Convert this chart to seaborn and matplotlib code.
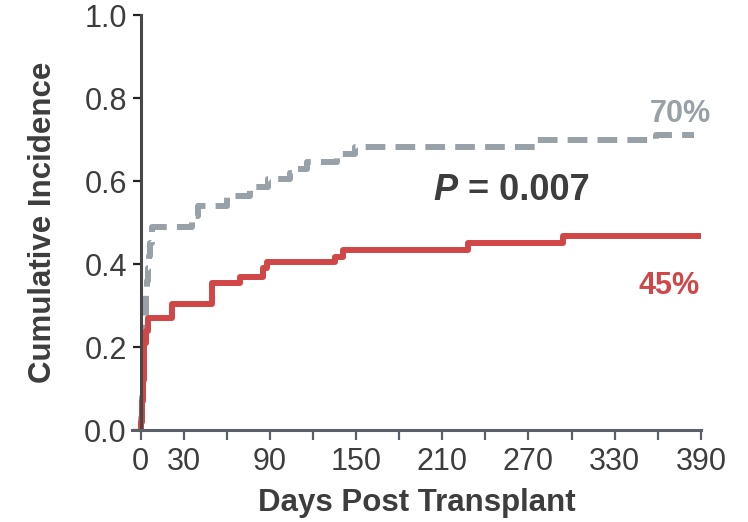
import pandas as pd
import seaborn as sns
import matplotlib.pyplot as plt
import numpy as np

# step points
days_high = [0, 0.5, 1, 1.5, 2, 2.5, 3, 3.5, 4, 4.5, 5, 5.5, 6.5, 8,
             36, 40, 60, 76, 89, 104, 107, 116, 137, 149, 275, 359, 385]
cif_high = [0, 0.03, 0.08, 0.13, 0.18, 0.22, 0.26, 0.30, 0.33, 0.36, 0.39, 0.42, 0.45, 0.49,
            0.515, 0.54, 0.565, 0.585, 0.605, 0.62, 0.63, 0.645, 0.665, 0.683, 0.698, 0.712, 0.712]

days_low = [0, 0.5, 1, 1.5, 2, 2.5, 3.5, 5, 22, 50, 69, 85, 88, 135, 141, 228, 294, 390]
cif_low = [0, 0.02, 0.07, 0.12, 0.17, 0.21, 0.24, 0.27, 0.305, 0.355, 0.37, 0.39, 0.405,
           0.418, 0.435, 0.45, 0.468, 0.468]

xticks = list(range(0, 391, 30))
xtick_labels = ['0', '30', '', '90', '', '150', '', '210', '', '270', '', '330', '', '390']
yticks = [0.0, 0.2, 0.4, 0.6, 0.8, 1.0]

gray = '#99a1a8'
red = '#d14747'
dark = '#3d3d3d'

df = pd.concat([
    pd.DataFrame({'day': days_high, 'cif': cif_high, 'group': 'high'}),
    pd.DataFrame({'day': days_low, 'cif': cif_low, 'group': 'low'}),
])

sns.set_style('ticks')
plt.rcParams['font.family'] = ['Liberation Sans', 'DejaVu Sans']

fig, ax = plt.subplots(figsize=(7.48, 5.22), dpi=100)
fig.subplots_adjust(left=0.1765, right=0.937, bottom=0.176, top=0.971)

sns.lineplot(data=df, x='day', y='cif', hue='group', style='group',
             palette={'high': gray, 'low': red},
             dashes={'high': (3.3, 1.7), 'low': ''},
             drawstyle='steps-post', estimator=None, sort=False,
             linewidth=4.3, legend=False, ax=ax)

ax.set_xlim(-6, 390)
ax.set_ylim(0, 1)
ax.spines['left'].set_position(('data', 0))
sns.despine(ax=ax)
ax.spines['left'].set_color('#474747')
ax.spines['bottom'].set_color('#596068')
ax.spines['left'].set_linewidth(2.2)
ax.spines['bottom'].set_linewidth(2.2)

ax.set_xticks(xticks)
ax.set_xticklabels(xtick_labels)
ax.set_yticks(yticks)
ax.set_yticklabels([f'{v:.1f}' for v in yticks])
ax.tick_params(axis='x', length=7, width=1.6, color='#596068', labelsize=22,
               labelcolor=dark, pad=5)
ax.tick_params(axis='y', length=6, width=1.6, color='#222222', labelsize=22,
               labelcolor=dark, pad=4)

ax.set_xlabel('Days Post Transplant', fontsize=22.5, fontweight='bold', color=dark, labelpad=8)
ax.set_ylabel('Cumulative Incidence', fontsize=22.5, fontweight='bold', color=dark)
ax.yaxis.set_label_coords(-0.13, 0.5)

p = ax.text(204, 0.555, 'P', fontsize=26, fontweight='bold', fontstyle='italic',
            color=dark, ha='left', va='baseline')
ax.annotate(' = 0.007', xy=(1, 0), xycoords=p, fontsize=26, fontweight='bold',
            color=dark, ha='left', va='bottom')
ax.text(397, 0.742, '70%', fontsize=22, fontweight='bold', color=gray, ha='right', va='baseline')
ax.text(389, 0.328, '45%', fontsize=22, fontweight='bold', color=red, ha='right', va='baseline')

plt.savefig('out.png', dpi=100)
